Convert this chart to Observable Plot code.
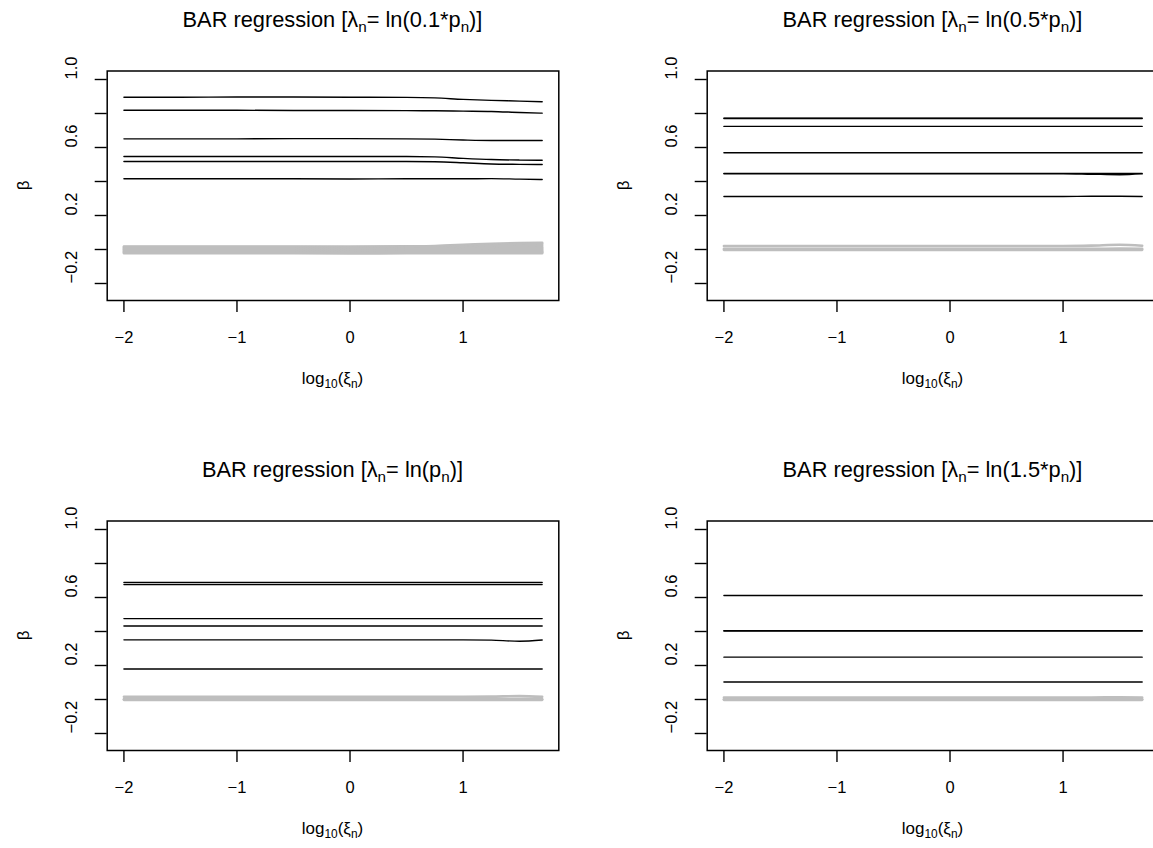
<!DOCTYPE html>
<html><head><meta charset="utf-8">
<script src="https://cdn.jsdelivr.net/npm/d3@7"></script>
<script src="https://cdn.jsdelivr.net/npm/@observablehq/plot@0.6"></script>
<style>
body{margin:0;background:#fff;overflow:hidden}
#wrap{position:relative;width:1153px;height:848px;overflow:hidden;background:#fff}
.cell{position:absolute;width:600px;height:400px}
.cell svg{max-width:none !important;width:600px;height:400px}
</style></head><body><div id="wrap"></div>
<script>
// x grid: log10(xi_n)
const xi = [-2, -1.5, -1, -0.5, 0, 0.5, 0.75, 1, 1.25, 1.5, 1.7];
const xTicks = [-2, -1, 0, 1];
const yTicks = [-0.2, 0, 0.2, 0.4, 0.6, 0.8, 1.0];
const yLabels = [-0.2, 0.2, 0.6, 1.0];
const factors = ["0.1*", "0.5*", "", "1.5*"];

// Panel 1: lambda = ln(0.1*p)
const p1Black = [
  [0.896,0.896,0.897,0.897,0.896,0.895,0.892,0.883,0.877,0.873,0.869],
  [0.819,0.819,0.819,0.818,0.818,0.817,0.816,0.814,0.812,0.806,0.802],
  [0.651,0.651,0.651,0.652,0.652,0.651,0.649,0.644,0.641,0.641,0.641],
  [0.547,0.547,0.547,0.547,0.547,0.547,0.545,0.536,0.529,0.526,0.525],
  [0.518,0.518,0.518,0.518,0.518,0.518,0.516,0.510,0.503,0.501,0.500],
  [0.416,0.416,0.416,0.416,0.415,0.416,0.416,0.416,0.417,0.414,0.412]
];
const p1Gray = [
  [0.018,0.018,0.018,0.018,0.017,0.019,0.021,0.027,0.034,0.038,0.040],
  [0.014,0.014,0.014,0.014,0.013,0.015,0.017,0.022,0.028,0.031,0.033],
  [0.010,0.010,0.010,0.010,0.009,0.011,0.012,0.016,0.020,0.022,0.023],
  [0.006,0.006,0.006,0.006,0.005,0.006,0.007,0.009,0.012,0.014,0.015],
  [0.002,0.002,0.002,0.002,0.001,0.002,0.003,0.004,0.006,0.007,0.008],
  [-0.002,-0.002,-0.002,-0.002,-0.003,-0.002,-0.002,-0.001,0.000,0.001,0.001],
  [-0.006,-0.006,-0.006,-0.006,-0.007,-0.006,-0.006,-0.006,-0.005,-0.005,-0.005],
  [-0.010,-0.010,-0.010,-0.010,-0.011,-0.010,-0.010,-0.010,-0.010,-0.010,-0.010],
  [-0.014,-0.014,-0.014,-0.014,-0.015,-0.014,-0.014,-0.014,-0.014,-0.014,-0.014],
  [-0.018,-0.018,-0.018,-0.018,-0.019,-0.018,-0.018,-0.018,-0.018,-0.018,-0.018],
  [-0.022,-0.022,-0.022,-0.022,-0.023,-0.022,-0.022,-0.022,-0.022,-0.022,-0.022]
];

// Panel 2: lambda = ln(0.5*p)
const p2Black = [
  [0.773,0.773,0.773,0.773,0.773,0.773,0.773,0.773,0.773,0.773,0.773],
  [0.771,0.771,0.771,0.771,0.771,0.771,0.771,0.771,0.771,0.771,0.771],
  [0.724,0.724,0.724,0.724,0.724,0.724,0.724,0.724,0.724,0.724,0.724],
  [0.569,0.569,0.569,0.569,0.569,0.569,0.569,0.569,0.569,0.569,0.569],
  [0.448,0.448,0.448,0.448,0.448,0.448,0.448,0.448,0.448,0.448,0.448],
  [0.446,0.446,0.446,0.446,0.446,0.446,0.446,0.446,0.443,0.440,0.445],
  [0.312,0.312,0.312,0.312,0.312,0.312,0.312,0.312,0.313,0.313,0.312]
];
const p2Gray = [
  [0.021,0.021,0.021,0.021,0.021,0.021,0.021,0.021,0.023,0.028,0.022],
  [0.004,0.004,0.004,0.004,0.004,0.004,0.004,0.004,0.004,0.005,0.004],
  [-0.002,-0.002,-0.002,-0.002,-0.002,-0.002,-0.002,-0.002,-0.002,-0.002,-0.002]
];

// Panel 3: lambda = ln(p)
const p3Black = [
  [0.688,0.688,0.688,0.688,0.688,0.688,0.688,0.688,0.688,0.688,0.688],
  [0.676,0.676,0.676,0.676,0.676,0.676,0.676,0.676,0.676,0.676,0.676],
  [0.476,0.476,0.476,0.476,0.476,0.476,0.476,0.476,0.476,0.476,0.476],
  [0.432,0.432,0.432,0.432,0.432,0.432,0.432,0.432,0.432,0.432,0.432],
  [0.351,0.351,0.351,0.351,0.351,0.351,0.351,0.351,0.349,0.343,0.350],
  [0.179,0.179,0.179,0.179,0.179,0.179,0.179,0.179,0.179,0.179,0.179]
];
const p3Gray = [
  [0.016,0.016,0.016,0.016,0.016,0.016,0.016,0.016,0.017,0.020,0.016],
  [0.002,0.002,0.002,0.002,0.002,0.002,0.002,0.002,0.002,0.002,0.002],
  [-0.002,-0.002,-0.002,-0.002,-0.002,-0.002,-0.002,-0.002,-0.002,-0.002,-0.002]
];

// Panel 4: lambda = ln(1.5*p)
const p4Black = [
  [0.612,0.612,0.612,0.612,0.612,0.612,0.612,0.612,0.612,0.612,0.612],
  [0.405,0.405,0.405,0.405,0.405,0.405,0.405,0.405,0.405,0.405,0.405],
  [0.403,0.403,0.403,0.403,0.403,0.403,0.403,0.403,0.403,0.403,0.403],
  [0.249,0.249,0.249,0.249,0.249,0.249,0.249,0.249,0.249,0.249,0.249],
  [0.103,0.103,0.103,0.103,0.103,0.103,0.103,0.103,0.103,0.103,0.103]
];
const p4Gray = [
  [0.012,0.012,0.012,0.012,0.012,0.012,0.012,0.012,0.012,0.013,0.012],
  [0.001,0.001,0.001,0.001,0.001,0.001,0.001,0.001,0.001,0.001,0.001],
  [-0.002,-0.002,-0.002,-0.002,-0.002,-0.002,-0.002,-0.002,-0.002,-0.002,-0.002]
];

const FONT = '"Liberation Sans", Arial, Helvetica, sans-serif';
const fmt = d => (d < 0 ? "\u2212" + Math.abs(d) : String(d));
const yfmt = d => (d < 0 ? "\u2212" : "") + Math.abs(d).toFixed(1);

const W = 600, H = 400, ML = 106.7, MR = 41.7, MT = 70.5, MB = 100;

function toRows(series) {
  return series.flatMap((s, i) => s.map((v, j) => ({x: xi[j], y: v, id: i})));
}

function addRich(svg, parts, attrs) {
  const t = svg.append("text").attr("font-family", FONT).attr("fill", "black");
  for (const [k, v] of Object.entries(attrs)) t.attr(k, v);
  const base = attrs["font-size"];
  let down = false;
  for (const p of parts) {
    const sub = typeof p !== "string";
    const s = t.append("tspan").text(sub ? p.sub : p);
    if (sub) { s.attr("font-size", base * 0.7); if (!down) { s.attr("dy", base * 0.22); down = true; } }
    else if (down) { s.attr("dy", -base * 0.22); down = false; }
  }
  return t;
}

function panel(factor, black, gray, left, top) {
  const chart = Plot.plot({
    width: W, height: H,
    marginLeft: ML, marginRight: MR, marginTop: MT, marginBottom: MB,
    style: {fontFamily: FONT, fontSize: "16.5px", background: "transparent", color: "black", overflow: "visible", maxWidth: "none"},
    x: {domain: [-2.148, 1.847]},
    y: {domain: [-0.3, 1.05]},
    marks: [
      Plot.line(toRows(gray), {x: "x", y: "y", z: "id", stroke: "#BEBEBE", strokeWidth: 2.6, curve: "monotone-x", strokeLinecap: "round"}),
      Plot.line(toRows(black), {x: "x", y: "y", z: "id", stroke: "black", strokeWidth: 1.4, curve: "monotone-x"}),
      Plot.frame({stroke: "black", strokeWidth: 1.5}),
      Plot.axisX({ticks: xTicks, tickSize: 12, tickPadding: 19, tickFormat: fmt, label: null, fontSize: 16.5, strokeWidth: 1.4, strokeOpacity: 1}),
      Plot.axisY({ticks: yTicks, tickSize: 12, tickFormat: () => "", label: null, strokeWidth: 1.4, strokeOpacity: 1}),
      Plot.text(yLabels, {y: d => d, text: yfmt, frameAnchor: "left", rotate: -90, dx: -35, fontSize: 16.5, fill: "black"})
    ]
  });
  const svg = d3.select(chart);
  const cx = ML + (W - ML - MR) / 2;
  addRich(svg, ["BAR regression [\u03bb", {sub: "n"}, "= ln(" + factor + "p", {sub: "n"}, ")]"],
    {"x": cx, "y": 27, "text-anchor": "middle", "font-size": 21.8});
  addRich(svg, ["log", {sub: "10"}, "(\u03be", {sub: "n"}, ")"],
    {"x": cx, "y": 384, "text-anchor": "middle", "font-size": 17});
  svg.append("text").attr("font-family", FONT).attr("font-size", 17).attr("text-anchor", "middle")
    .attr("transform", `translate(29,${(MT + (H - MB)) / 2}) rotate(-90)`).text("\u03b2");
  const div = document.createElement("div");
  div.className = "cell";
  div.style.left = left + "px";
  div.style.top = top + "px";
  div.appendChild(chart);
  document.getElementById("wrap").appendChild(div);
}

panel(factors[0], p1Black, p1Gray, 0, 0);
panel(factors[1], p2Black, p2Gray, 600, 0);
panel(factors[2], p3Black, p3Gray, 0, 449.5);
panel(factors[3], p4Black, p4Gray, 600, 449.5);
</script></body></html>
